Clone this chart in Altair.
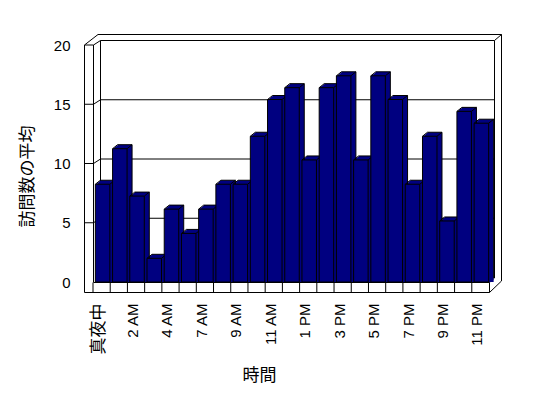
import altair as alt
import pandas as pd

# ---- data ----
hours = ["真夜中", "1 AM", "2 AM", "3 AM", "4 AM", "5 AM", "7 AM", "8 AM", "9 AM",
         "10 AM", "11 AM", "正午", "1 PM", "2 PM", "3 PM", "4 PM", "5 PM", "6 PM",
         "7 PM", "8 PM", "9 PM", "10 PM", "11 PM"]
visits = [8.25, 11.25, 7.25, 2.0, 6.15, 4.1, 6.15, 8.25, 8.25, 12.3, 15.4, 16.4,
          10.3, 16.4, 17.4, 10.3, 17.4, 15.4, 8.25, 12.3, 5.15, 14.4, 13.4]
shown_labels = hours[::2]
y_ticks = [0, 5, 10, 15, 20]
grid_vals = [5, 10, 15, 20]

df = pd.DataFrame({"hour": hours, "visits": visits})
gdf = pd.DataFrame({"v": grid_vals})
one = pd.DataFrame({"a": [0]})

NAVY = "#000080"
W, H = 418, 258
BW = 14.5       # bar front width
BX = 1          # bar shift within band
DX, DY = 5, -4  # bar depth
WY = -4.5       # wall depth (vertical)

xscale = alt.Scale(domain=hours, range=[9, 405], paddingInner=0, paddingOuter=0)
yscale = alt.Scale(domain=[0, 20], range=[248, 11], nice=False, zero=True)

label_size = {"condition": {"test": "datum.value == '真夜中'", "value": 17}, "value": 15}
xaxis = alt.Axis(values=shown_labels, labelAngle=270, domain=False, ticks=False,
                 tickSize=0, grid=False, labelPadding=11, labelOffset=-3,
                 labelFont="Liberation Sans, Noto Sans CJK JP",
                 labelFontSize=label_size, labelColor="black",
                 title="時間", titleFont="Noto Sans CJK JP", titleFontSize=17,
                 titleFontWeight="normal", titleColor="black",
                 titleX=175, titleY=83, titleAlign="center",
                 titleBaseline="middle", titleAngle=0)
yaxis = alt.Axis(values=y_ticks, domain=False, ticks=False, tickSize=0,
                 grid=False, labelPadding=14, labelFont="Liberation Sans",
                 labelFontSize=15, labelColor="black",
                 title="訪問数の平均", titleFont="Noto Sans CJK JP",
                 titleFontSize=17, titleFontWeight="normal", titleColor="black",
                 titleX=-57, titleY=142, titleAngle=270, titleAlign="center",
                 titleBaseline="middle")


def X(**kw):
    return alt.X("hour:N", scale=xscale, sort=hours, axis=xaxis, **kw)


def Y(**kw):
    return alt.Y("visits:Q", scale=yscale, axis=yaxis, **kw)


def frame(x, x2, y, y2):
    return alt.Chart(one).mark_rule(color="black", strokeWidth=1).encode(
        x=alt.value(x), x2=alt.value(x2), y=alt.value(y), y2=alt.value(y2))


layers = []

# walls / floor outline
frames = [
    (0.5, 0.5, 11, 258.5),        # outer left
    (9.5, 9.5, 11, 248.5),        # inner left
    (16.5, 16.5, 6.5, 244),       # back-left
    (0.5, 14, 11, 0.5),           # outer top-left diagonal
    (14, 417.5, 0.5, 0.5),        # outer top
    (417.5, 417.5, 0.5, 247),     # outer right
    (417.5, 405.5, 247, 258.5),   # bottom-right diagonal
    (0.5, 405.5, 258.5, 258.5),   # front bottom
    (410.5, 410.5, 6.5, 244),     # inner right
    (410.5, 417.5, 6.5, 0.5),     # top-right diagonal
    (405.5, 410.5, 248.5, 244),   # floor right diagonal
]
for f in frames:
    layers.append(frame(*f))

# gridlines on the back wall and wall ticks
ygrid = alt.Y("v:Q", scale=yscale, axis=yaxis)
layers.append(alt.Chart(gdf).mark_rule(color="black", strokeWidth=1, yOffset=WY).encode(
    y=ygrid, x=alt.value(16.5), x2=alt.value(410.5)))
layers.append(alt.Chart(gdf).mark_rule(color="black", strokeWidth=1).encode(
    y=ygrid, x=alt.value(0.5), x2=alt.value(9.5)))
layers.append(alt.Chart(gdf).mark_rule(color="black", strokeWidth=1, y2Offset=WY).encode(
    y=ygrid, y2=alt.Y2("v:Q"), x=alt.value(9.5), x2=alt.value(16.5)))

# floor
layers.append(frame(9.5, 405.5, 248.5, 248.5))
layers.append(alt.Chart(df).mark_rule(color="black", strokeWidth=1).encode(
    x=X(bandPosition=0), y=alt.value(248.5), y2=alt.value(258.5)))
layers.append(frame(405.5, 405.5, 248.5, 258.5))

# extruded depth of bars
for k in range(1, 6):
    layers.append(alt.Chart(df).mark_bar(color=NAVY, width=BW, xOffset=BX + k,
                                         yOffset=DY * k / 5).encode(
        x=X(), y=Y(), y2=alt.datum(0)))

L = BX - BW / 2
R = BX + BW / 2
# back top edge
layers.append(alt.Chart(df).mark_rule(color="black", strokeWidth=1, xOffset=L + DX,
                                      x2Offset=R + DX, yOffset=DY).encode(
    x=X(), x2=alt.X2("hour:N"), y=Y()))
# back right edge
layers.append(alt.Chart(df).mark_rule(color="black", strokeWidth=1, xOffset=R + DX,
                                      yOffset=DY, y2Offset=DY).encode(
    x=X(), y=Y(), y2=alt.datum(0)))
# top diagonals
for off in (L, R):
    layers.append(alt.Chart(df).mark_rule(color="black", strokeWidth=1, xOffset=off,
                                          x2Offset=off + DX, y2Offset=DY).encode(
        x=X(), x2=alt.X2("hour:N"), y=Y(), y2=alt.Y2("visits:Q")))

# front faces
front = alt.Chart(df).mark_bar(fill=NAVY, stroke="black", strokeWidth=1, width=BW,
                               xOffset=BX).encode(
    x=X(), y=Y(), y2=alt.datum(0))
layers.append(front)

chart = alt.layer(*layers).properties(
    width=W, height=H,
    autosize=alt.AutoSizeParams(type="none"),
    padding={"left": 84, "top": 34, "right": 46, "bottom": 106},
    background="white",
).configure_view(stroke=None)

chart.save("out.html", embed_options={"renderer": "svg", "actions": False})
